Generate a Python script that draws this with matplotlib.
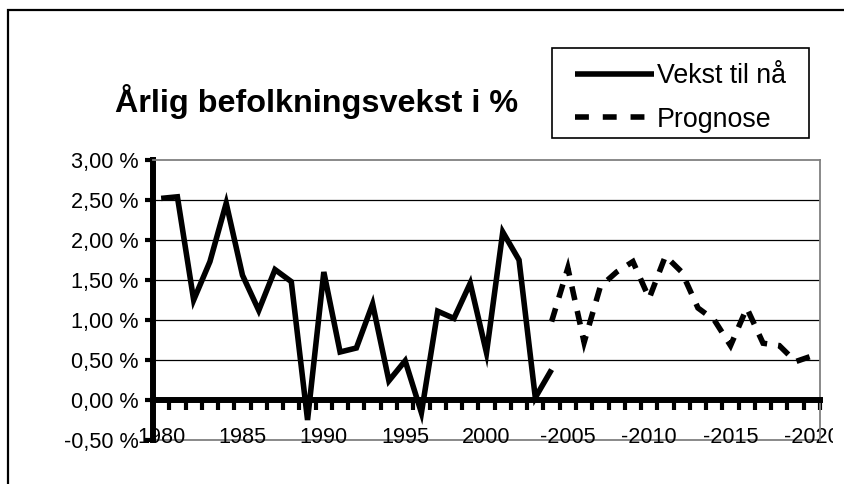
import matplotlib
matplotlib.use("Agg")
import matplotlib.pyplot as plt
from matplotlib.ticker import FixedLocator, FuncFormatter
from matplotlib.lines import Line2D
from matplotlib.patches import Rectangle
from matplotlib.transforms import Bbox, TransformedBbox

plt.rcParams['font.family'] = ['Liberation Sans', 'DejaVu Sans']

# ---- data ----
years_actual = list(range(1980, 2005))
growth_actual = [2.52, 2.54, 1.25, 1.73, 2.46, 1.56, 1.12, 1.63, 1.48, -0.25,
                 1.60, 0.60, 0.65, 1.20, 0.24, 0.49, -0.16, 1.11, 1.02, 1.46,
                 0.59, 2.10, 1.75, 0.03, 0.38]
years_forecast = list(range(2004, 2021))
growth_forecast = [0.98, 1.65, 0.72, 1.42, 1.60, 1.73, 1.27, 1.80, 1.60, 1.15,
                   1.00, 0.68, 1.15, 0.71, 0.68, 0.48, 0.55]
all_years = list(range(1980, 2021))
tick_label_years = [1980, 1985, 1990, 1995, 2000, 2005, 2010, 2015, 2020]
tick_label_text = ["1980", "1985", "1990", "1995", "2000",
                   "-2005", "-2010", "-2015", "-2020"]
y_ticks = [-0.5, 0.0, 0.5, 1.0, 1.5, 2.0, 2.5, 3.0]
title = "Årlig befolkningsvekst i %"
series_names = ["Vekst til nå", "Prognose"]

W, H = 845, 484
fig = plt.figure(figsize=(W / 100, H / 100), dpi=100)
ax = fig.add_axes([153 / W, 44 / H, 667 / W, 280 / H])

x0 = all_years[0]
xa = [y - x0 for y in years_actual]
xf = [y - x0 for y in years_forecast]

ax.plot(xa, growth_actual, color='black', lw=4.0, solid_joinstyle='miter',
        solid_capstyle='butt', zorder=4)
ax.plot(xf, growth_forecast, color='black', lw=4.0, linestyle=(0, (2.5, 2.0)),
        dash_joinstyle='miter', dash_capstyle='butt', zorder=4)

ax.set_xlim(-0.5, len(all_years) - 0.5)
ax.set_ylim(-0.5, 3.0)

# y axis
ax.yaxis.set_major_locator(FixedLocator(y_ticks))
ax.yaxis.set_major_formatter(FuncFormatter(
    lambda v, p: f"{v:.2f}".replace('.', ',') + " %"))
ax.tick_params(axis='y', which='major', direction='out', length=5.5, width=3,
               labelsize=15.6, pad=5, color='black')
ax.yaxis.grid(True, color='black', lw=0.9)
gl = ax.get_ygridlines()
gl[0].set_visible(False)
gl[1].set_visible(False)
gl[-1].set_visible(False)

# x axis at zero
ax.spines['bottom'].set_position(('data', 0))
ax.spines['bottom'].set_linewidth(4.3)
ax.spines['left'].set_linewidth(4.3)
for s in ['top', 'right']:
    ax.spines[s].set_color('#808080')
    ax.spines[s].set_linewidth(1.3)
ax.axhline(-0.5, color='#808080', lw=1.3, clip_on=False, zorder=1)

ax.xaxis.set_major_locator(FixedLocator([y - x0 for y in tick_label_years]))
ax.set_xticklabels(tick_label_text)
ax.xaxis.set_minor_locator(FixedLocator([i - 0.5 for i in range(len(all_years) + 1)]))
ax.tick_params(axis='x', which='major', length=0, labelsize=15.6, pad=19.5)
ax.tick_params(axis='x', which='minor', direction='out', length=7.5, width=3,
               color='black')

clip = TransformedBbox(Bbox([[0, 0], [833 / W, 1]]), fig.transFigure)
for t in ax.xaxis.get_major_ticks():
    t.label1.set_clip_on(True)
    t.label1.set_clip_box(clip)

# title
fig.text(115 / W, 1 - 112 / H, title, fontsize=23.3, fontweight='bold',
         ha='left', va='baseline')

# legend (frame drawn as a separate box)
handles = [Line2D([], [], color='black', lw=4.0, solid_capstyle='butt'),
           Line2D([], [], color='black', lw=4.0, linestyle=(0, (2.5, 2.5)),
                  dash_capstyle='butt')]
leg = fig.legend(handles, series_names, loc='upper left',
                 bbox_to_anchor=(575 / W, 1 - 63 / H), bbox_transform=fig.transFigure,
                 frameon=False, fontsize=19.3, handlelength=2.95, handletextpad=0.1,
                 borderpad=0, labelspacing=0.66, borderaxespad=0)
fig.patches.append(Rectangle((552 / W, 1 - 138 / H), 257 / W, 90 / H,
                             transform=fig.transFigure, fill=False,
                             edgecolor='black', lw=1.2))

# outer chart border
fig.patches.append(Rectangle((8 / W, -0.1), 1.2, 1.1 - 10 / H,
                             transform=fig.transFigure, fill=False,
                             edgecolor='black', lw=1.6))

fig.savefig("out.png", dpi=100)
